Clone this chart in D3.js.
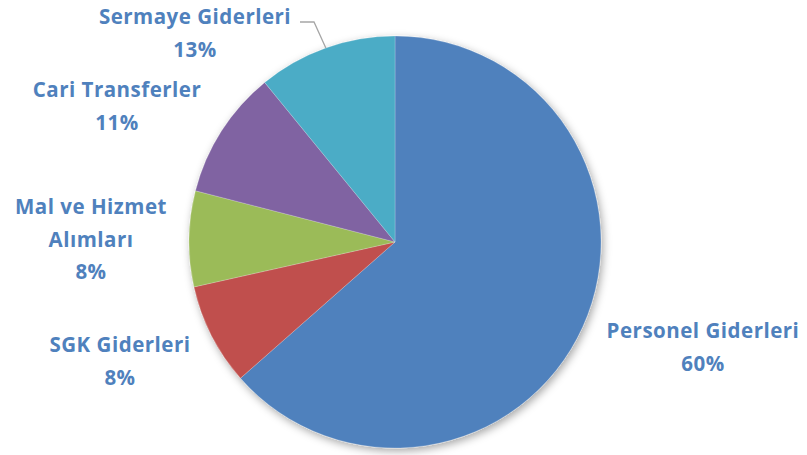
<!DOCTYPE html>
<html>
<head>
<meta charset="utf-8">
<script src="https://cdn.jsdelivr.net/npm/d3@7"></script>
<style>
html,body{margin:0;padding:0;background:#fff;}
svg{display:block;}
</style>
</head>
<body>
<svg id="chart" width="807" height="455"></svg>
<script>
// ---- data ----
const categories = ["Personel Giderleri", "SGK Giderleri", "Mal ve Hizmet Alımları", "Cari Transferler", "Sermaye Giderleri"];
const values = [63.5, 8.0, 7.5, 10.1, 10.9];
const percentLabels = ["60%", "8%", "8%", "11%", "13%"];
const labelLines = [["Personel Giderleri"], ["SGK Giderleri"], ["Mal ve Hizmet", "Alımları"], ["Cari Transferler"], ["Sermaye Giderleri"]];

// ---- layout / style ----
const colors = ["#4F81BD", "#C0504D", "#9BBB59", "#8064A2", "#4BACC6"];
const cx = 395, cy = 242, radius = 206;
const labelPos = [[703, 338], [120, 352], [91, 214], [117, 97], [195, 24]];
const lineH = 32.5;

const svg = d3.select("#chart");
const defs = svg.append("defs");
const f = defs.append("filter").attr("id", "sh").attr("x", "-20%").attr("y", "-20%").attr("width", "140%").attr("height", "140%");
f.append("feDropShadow").attr("dx", 2).attr("dy", 3).attr("stdDeviation", 4).attr("flood-color", "#000").attr("flood-opacity", 0.35);

const pie = d3.pie().sort(null).value(d => d)(values);
const arc = d3.arc().innerRadius(0).outerRadius(radius);

const g = svg.append("g").attr("transform", `translate(${cx},${cy})`);
const slices = g.append("g").attr("filter", "url(#sh)");
slices.selectAll("path").data(pie).enter().append("path")
  .attr("d", arc)
  .attr("fill", (d, i) => colors[i])
  .attr("stroke", "rgba(255,255,255,0.35)")
  .attr("stroke-width", 0.6);

// leader line for Sermaye Giderleri
const si = 4;
const mid = (pie[si].startAngle + pie[si].endAngle) / 2;
const ex = cx + radius * Math.sin(mid), ey = cy - radius * Math.cos(mid);
svg.append("polyline")
  .attr("points", `${labelPos[si][0] + 105},22 ${labelPos[si][0] + 119},22 ${ex},${ey}`)
  .attr("fill", "none").attr("stroke", "#A6A6A6").attr("stroke-width", 1.3);

// labels
categories.forEach((c, i) => {
  const [x, y] = labelPos[i];
  const t = svg.append("text")
    .attr("x", x).attr("y", y)
    .attr("text-anchor", "middle")
    .attr("font-family", "'Open Sans', sans-serif")
    .attr("font-weight", 700)
    .attr("font-size", 20.5)
    .attr("letter-spacing", 0.5)
    .attr("fill", "#4F81BD");
  const lines = labelLines[i].concat([percentLabels[i]]);
  lines.forEach((l, k) => {
    t.append("tspan").attr("x", x).attr("y", y + k * lineH).text(l);
  });
});
</script>
</body>
</html>
